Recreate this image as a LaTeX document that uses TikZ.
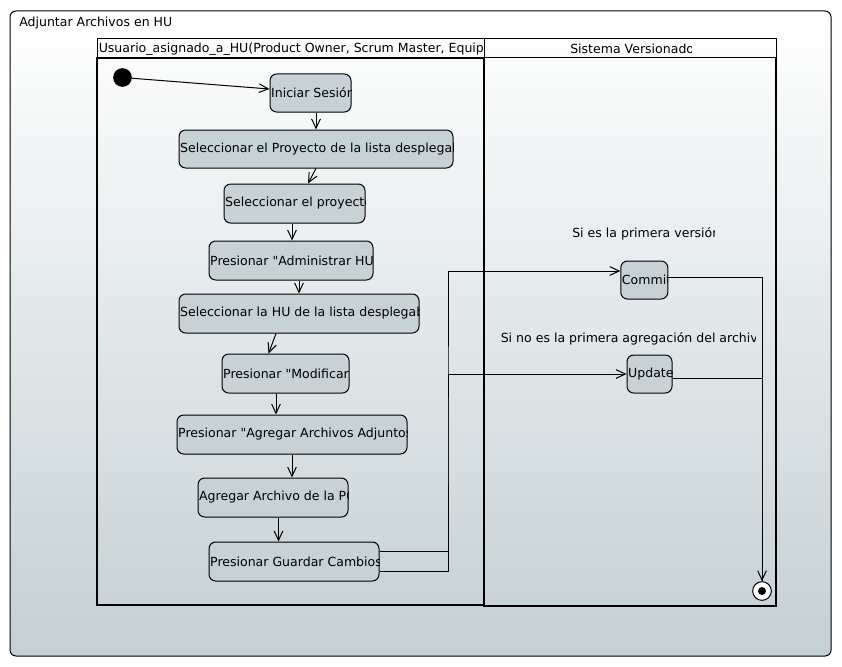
\documentclass[tikz,border=0pt]{standalone}
\usepackage{fontspec}
\newfontfamily\dejavu{DejaVu Sans}
\usetikzlibrary{arrows.meta,calc}

\definecolor{actfill}{RGB}{198,210,213}
\definecolor{bgbottom}{RGB}{195,208,212}

\tikzset{
  act/.style={draw, line width=0.75pt, rounded corners=5pt, fill=actfill, inner sep=0pt},
  acttext/.style={draw=none, fill=none, rounded corners=0pt, inner sep=0pt,
    minimum width=0pt, minimum height=0pt, anchor=west},
  flow/.style={line width=0.75pt, -{Straight Barb[length=7pt,width=6.5pt,line width=0.75pt]}},
  wire/.style={line width=0.75pt},
  lanebody/.style={draw, line width=1.3pt},
  lanehead/.style={draw, line width=0.75pt},
  plain/.style={inner sep=0pt, anchor=west},
}

% activity box: name, x, y, width, height, label (label is cut at the box edge)
\newcommand\actnode[6]{%
  \node[act, minimum width=#4*0.75pt, minimum height=#5*0.75pt,
    path picture={\node[acttext] at ([xshift=0.5pt]path picture bounding box.west) {#6};}]
    (#1) at (#2,#3) {};
}

\begin{document}
\begin{tikzpicture}[x=0.75pt, y=-0.75pt, font=\dejavu\fontsize{9.4pt}{11pt}\selectfont]
\useasboundingbox (0,0) rectangle (842,667);

% diagram frame
\shade[top color=white, bottom color=bgbottom, rounded corners=4.5pt] (10,11) rectangle (831,656);
\draw[line width=0.75pt, rounded corners=4.5pt] (10,11) rectangle (831,656);
\begin{scope}
  \clip (10,11) rectangle (170.5,35);
  \node[plain] (title) at (19,23) {Adjuntar Archivos en HU};
\end{scope}

% swimlanes
\draw[lanehead] (97,39) rectangle (484,58);
\draw[lanehead] (484,39) rectangle (776,58);
\draw[lanebody] (97,58) rectangle (484,605);
\draw[line width=1.1pt] (484,58) -- (484,606) -- (776,606) -- (776,58);
\begin{scope}
  \clip (97,39) rectangle (484,58);
  \node[plain] (laneA) at (98.5,49) {Usuario\_asignado\_a\_HU(Product Owner, Scrum Master, Equipo)};
\end{scope}
\begin{scope}
  \clip (484,39) rectangle (691,58);
  \node[plain] (laneB) at (570,49) {Sistema Versionado};
\end{scope}

% start and end
\node[circle, fill=black, minimum size=14pt, inner sep=0pt] (start) at (122.5,77.5) {};
\node[circle, draw, fill=white, line width=0.75pt, minimum size=14pt, inner sep=0pt] (stop) at (762,591) {};
\fill (stop.center) circle (3pt);

% activities
\actnode{iniciar}{310.5}{93}{81}{38}{Iniciar Sesión}
\actnode{selp}{316}{149}{274}{38}{Seleccionar el Proyecto de la lista desplegable}
\actnode{selpr}{294.5}{203.5}{141}{39}{Seleccionar el proyecto}
\actnode{admin}{291}{260.5}{164}{39}{Presionar "Administrar HU"}
\actnode{selhu}{299}{313.5}{240}{39}{Seleccionar la HU de la lista desplegable}
\actnode{modif}{285.5}{373.5}{127}{39}{Presionar "Modificar"}
\actnode{adj}{292}{434.5}{230}{39}{Presionar "Agregar Archivos Adjuntos"}
\actnode{pc}{273}{497.5}{150}{39}{Agregar Archivo de la PC}
\actnode{guardar}{294}{561.5}{170}{39}{Presionar Guardar Cambios}
\actnode{commit}{644.3}{280}{47}{38}{Commit}
\actnode{update}{649.5}{374}{45}{38}{Update}

% guard labels
\begin{scope}
  \clip (560,222) rectangle (714,248);
  \node[plain] (guardA) at (572,234) {Si es la primera versión};
\end{scope}
\begin{scope}
  \clip (490,326) rectangle (755,352);
  \node[plain] (guardB) at (500.5,339) {Si no es la primera agregación del archivo};
\end{scope}

% main flow
\draw[flow] (start) -- ($(iniciar.west)+(0,-4)$);
\draw[flow] ($(iniciar.south)+(5.5,0)$) -- (selp.north);
\draw[flow] (selp.south) -- ($(selpr.north)+(13.5,0)$);
\draw[flow] ($(selpr.south)+(-2.5,0)$) -- ($(admin.north)+(1,0)$);
\draw[flow] ($(admin.south)+(8,0)$) -- (selhu.north);
\draw[flow] ($(selhu.south)+(-23,0)$) -- ($(modif.north)+(-17,0)$);
\draw[flow] ($(modif.south)+(-9.5,0)$) -- ($(adj.north)+(-16,0)$);
\draw[flow] (adj.south) -- ($(pc.north)+(19,0)$);
\draw[flow] ($(pc.south)+(5.5,0)$) -- ($(guardar.north)+(-15.5,0)$);

% branches into the versioning lane
\coordinate (fork) at (448,420);
\draw[flow] ($(guardar.east)+(0,-10.5)$) -| (fork) |- ($(commit.west)+(0,-9)$);
\draw[flow] ($(guardar.east)+(0,9.5)$) -| (fork) |- (update.west);

% merge into the end
\draw[flow] ($(commit.east)+(0,-2.5)$) -| (stop.north);
\draw[wire] ($(update.east)+(0,4.5)$) -| (stop.north);
\end{tikzpicture}
\end{document}
